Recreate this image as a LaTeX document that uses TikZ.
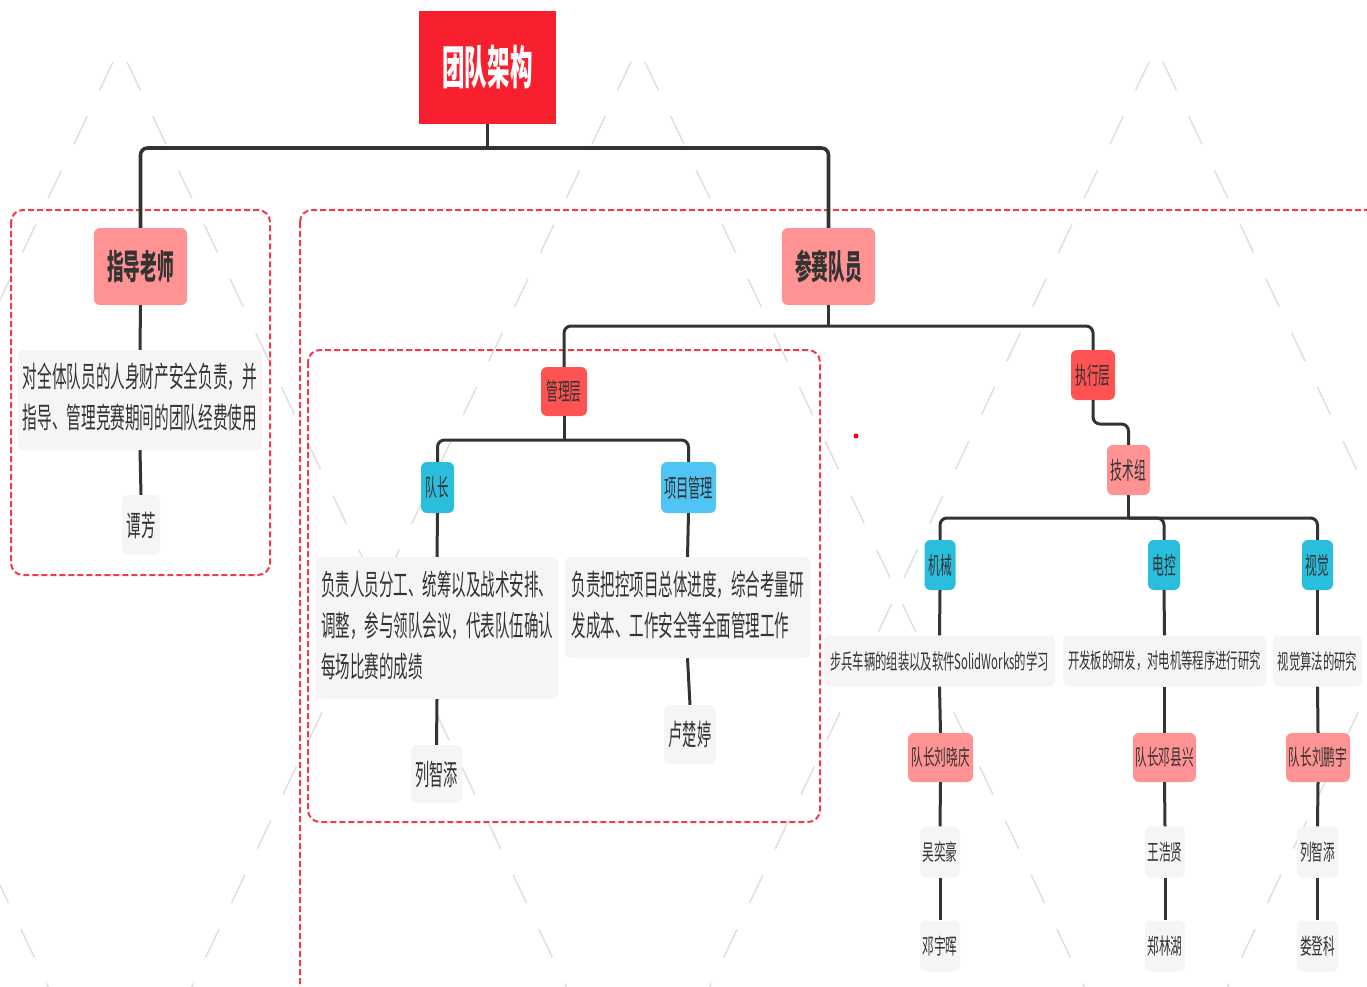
\documentclass[tikz,border=0pt]{standalone}
\usepackage{fontspec}
\setmainfont{Noto Sans CJK SC}
\usepackage{graphicx}
\definecolor{titlered}{HTML}{F81F2F}
\definecolor{salmon}{HTML}{FF9393}
\definecolor{redn}{HTML}{FF5252}
\definecolor{cyann}{HTML}{2BBEDC}
\definecolor{bluen}{HTML}{50C4F5}
\definecolor{grayn}{HTML}{F5F5F5}
\definecolor{linec}{HTML}{333333}
\definecolor{txt}{HTML}{333333}
\definecolor{dred}{HTML}{F23A4A}
\definecolor{patgray}{HTML}{DEDEDE}
\newcommand{\tx}[3]{\scalebox{#2}[1]{\fontsize{#1}{41}\selectfont #3}}
\tikzset{
  base/.style={inner sep=0pt, rounded corners=6pt, text=txt, anchor=center},
  sz/.style 2 args={minimum width=#1pt, minimum height=#2pt},
  titlebox/.style={base, rounded corners=0pt, fill=titlered, text=white},
  pinkbox/.style={base, fill=salmon},
  redbox/.style={base, fill=redn},
  cyanbox/.style={base, fill=cyann},
  bluebox/.style={base, fill=bluen},
  graybox/.style={base, fill=grayn},
  dbox/.style={draw=dred, line width=2pt, dash pattern=on 6pt off 3pt, rounded corners=12pt},
  conn/.style={draw=linec, line width=3pt, rounded corners=7pt},
  bigconn/.style={conn, line width=3.6pt},
  patline/.style={draw=patgray, line width=1.4pt, dash pattern=on 31pt off 29pt}
}
\begin{document}
\begin{tikzpicture}[x=1pt,y=-1pt]
\useasboundingbox (0,0) rectangle (1367,986);
\fill[white] (0,0) rectangle (1367,986);
% faint background pattern
\foreach \a in {-391,127,645,1163} {
  \draw[patline] (\a,62) -- ++(0.475*940,940);
}
\foreach \b in {113,631,1149,1667} {
  \draw[patline] (\b,62) -- ++(-0.475*940,940);
}
% dashed group frames
\draw[dbox] (11,210) rectangle (270,575);
\draw[dbox] (300,210) rectangle (1390,1010);
\draw[dbox] (308,350) rectangle (820,822);
\fill[red] (856,436) circle (2.5);
% nodes
\node[titlebox, sz={137}{113}] (title) at (487.5,67.5) {\tx{46}{0.49}{\bfseries 团队架构}};
\node[pinkbox, sz={93}{77}] (teacher) at (140.5,266.5) {\tx{34}{0.49}{\bfseries 指导老师}};
\node[graybox, sz={244}{100}] (tdesc) at (140,400) {\tx{29}{0.505}{\begin{tabular}{@{}l@{}}对全体队员的人身财产安全负责，并\\指导、管理竞赛期间的团队经费使用\end{tabular}}};
\node[graybox, sz={38}{60}] (tname) at (141,525) {\tx{29}{0.5}{谭芳}};
\node[pinkbox, sz={93}{77}] (members) at (828.5,266.5) {\tx{34}{0.49}{\bfseries 参赛队员}};
\node[redbox, sz={46}{49}] (mgmt) at (564,391.5) {\tx{24}{0.49}{管理层}};
\node[redbox, sz={44}{50}] (exec) at (1093,375) {\tx{24}{0.49}{执行层}};
\node[cyanbox, sz={33}{51}] (captain) at (437.5,487.5) {\tx{24}{0.49}{队长}};
\node[bluebox, sz={55}{51}] (pm) at (688.5,487.5) {\tx{25}{0.49}{项目管理}};
\node[graybox, sz={242}{142}] (capdesc) at (437,628) {\tx{29}{0.5}{\begin{tabular}{@{}l@{}}负责人员分工、统筹以及战术安排、\\调整，参与领队会议，代表队伍确认\\每场比赛的成绩\end{tabular}}};
\node[graybox, sz={245}{101}] (pmdesc) at (687.5,607.5) {\tx{29}{0.5}{\begin{tabular}{@{}l@{}}负责把控项目总体进度，综合考量研\\发成本、工作安全等全面管理工作\end{tabular}}};
\node[graybox, sz={51}{58}] (capname) at (436.5,774) {\tx{29}{0.49}{列智添}};
\node[graybox, sz={52}{59}] (pmname) at (690,734.5) {\tx{29}{0.49}{卢楚婷}};
\node[pinkbox, sz={43}{50}] (tech) at (1128.5,470) {\tx{24}{0.49}{技术组}};
\node[cyanbox, sz={31}{50}] (mech) at (940,565) {\tx{24}{0.49}{机械}};
\node[cyanbox, sz={32}{50}] (elec) at (1164,565) {\tx{24}{0.49}{电控}};
\node[cyanbox, sz={31}{50}] (vis) at (1317.5,565) {\tx{24}{0.49}{视觉}};
\node[graybox, sz={231}{51}] (mdesc) at (939.5,661) {\tx{21}{0.54}{步兵车辆的组装以及软件SolidWorks的学习}};
\node[graybox, sz={203}{51}] (edesc) at (1164.5,661) {\tx{21}{0.54}{开发板的研发，对电机等程序进行研究}};
\node[graybox, sz={89}{51}] (vdesc) at (1317.5,661) {\tx{21}{0.54}{视觉算法的研究}};
\node[pinkbox, sz={65}{49}] (mlead) at (940.5,757.5) {\tx{22}{0.53}{队长刘晓庆}};
\node[pinkbox, sz={63}{49}] (elead) at (1164.5,757.5) {\tx{22}{0.53}{队长邓县兴}};
\node[pinkbox, sz={64}{49}] (vlead) at (1318,757.5) {\tx{22}{0.53}{队长刘鹏宇}};
\node[graybox, sz={40}{51}] (m1) at (940,852) {\tx{22}{0.53}{吴奕豪}};
\node[graybox, sz={40}{51}] (e1) at (1165,852) {\tx{22}{0.53}{王浩贤}};
\node[graybox, sz={41}{51}] (v1) at (1317.5,852) {\tx{22}{0.53}{列智添}};
\node[graybox, sz={40}{51}] (m2) at (940,946) {\tx{22}{0.53}{邓宇晖}};
\node[graybox, sz={40}{51}] (e2) at (1165,946) {\tx{22}{0.53}{郑林湖}};
\node[graybox, sz={41}{51}] (v2) at (1317.5,946) {\tx{22}{0.53}{娄登科}};
% connectors
\draw[bigconn] (title.south) -- (title.south |- 0,148);
\draw[bigconn] (teacher.north) -- (teacher.north |- 0,148) -- (members.north |- 0,148) -- (members.north);
\draw[conn] (teacher.south) -- (tdesc.north);
\draw[conn] (tdesc.south) -- (tname.north);
\draw[conn] (members.south) -- (members.south |- 0,326);
\draw[conn] (mgmt.north) -- (mgmt.north |- 0,326) -- (exec.north |- 0,326) -- (exec.north);
\draw[conn] (mgmt.south) -- (mgmt.south |- 0,440);
\draw[conn] (captain.north) -- (captain.north |- 0,440) -- (pm.north |- 0,440) -- (pm.north);
\draw[conn] (captain.south) -- (capdesc.north);
\draw[conn] (capdesc.south) -- (capname.north);
\draw[conn] (pm.south) -- (pmdesc.north);
\draw[conn] (pmdesc.south) -- (pmname.north);
\draw[conn] (exec.south) -- (exec.south |- 0,424) -- (tech.north |- 0,424) -- (tech.north);
\draw[conn] (tech.south) -- (tech.south |- 0,518);
\draw[conn] (mech.north) -- (mech.north |- 0,518) -- (vis.north |- 0,518) -- (vis.north);
\draw[conn] (tech.south |- 0,518) -- (elec.north |- 0,518) -- (elec.north);
\draw[conn] (mech.south) -- (mdesc.north);
\draw[conn] (elec.south) -- (edesc.north);
\draw[conn] (vis.south) -- (vdesc.north);
\draw[conn] (mdesc.south) -- (mlead.north);
\draw[conn] (edesc.south) -- (elead.north);
\draw[conn] (vdesc.south) -- (vlead.north);
\draw[conn] (mlead.south) -- (m1.north);
\draw[conn] (elead.south) -- (e1.north);
\draw[conn] (vlead.south) -- (v1.north);
\draw[conn] (m1.south) -- (m2.north);
\draw[conn] (e1.south) -- (e2.north);
\draw[conn] (v1.south) -- (v2.north);
\end{tikzpicture}
\end{document}
